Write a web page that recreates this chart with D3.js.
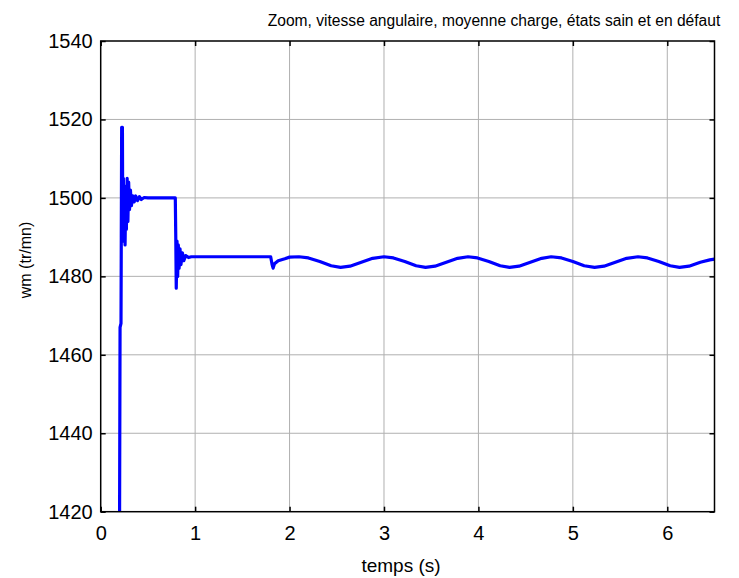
<!DOCTYPE html>
<html>
<head>
<meta charset="utf-8">
<script src="https://cdn.jsdelivr.net/npm/d3@7"></script>
<style>
  html, body { margin: 0; padding: 0; background: #fff; }
  svg { display: block; font-family: "Liberation Sans", Arial, sans-serif; }
</style>
</head>
<body>
<svg id="chart" width="739" height="578"></svg>
<script>
// Angular speed (tr/mn) over time (s): start-up, load step, then faulty-state ripple
const timeS = [
  0.198, 0.205, 0.215, 0.218, 0.222, 0.230, 0.234, 0.240, 0.245, 0.252,
  0.258, 0.265, 0.272, 0.280, 0.288, 0.296, 0.305, 0.315, 0.325, 0.340,
  0.355, 0.370, 0.390, 0.410, 0.430, 0.460, 0.500, 0.790, 0.795, 0.800,
  0.808, 0.815, 0.822, 0.830, 0.840, 0.850, 0.865, 0.880, 0.900, 0.930,
  0.960, 1.800, 1.815, 1.826, 1.840, 1.880, 1.950, 2.000, 2.100, 2.200,
  2.320, 2.440, 2.540, 2.640, 2.760, 2.880, 3.000, 3.100, 3.220, 3.340,
  3.440, 3.540, 3.660, 3.780, 3.890, 3.990, 4.110, 4.230, 4.330, 4.430,
  4.550, 4.670, 4.770, 4.880, 5.000, 5.120, 5.230, 5.330, 5.450, 5.570,
  5.690, 5.790, 5.910, 6.030, 6.130, 6.230, 6.350, 6.450, 6.500
];
const speedWm = [
  1400, 1467, 1468, 1490, 1518, 1518, 1490, 1505, 1489, 1503,
  1488, 1500, 1492, 1505, 1494, 1504, 1497, 1502, 1498, 1500.5,
  1499, 1500.5, 1499.3, 1500.3, 1499.6, 1500.1, 1500, 1500, 1490, 1477,
  1489, 1480, 1488, 1482, 1487, 1483, 1486, 1484, 1485.3, 1484.8,
  1485, 1485, 1483, 1482.1, 1483.2, 1484, 1484.5, 1484.9, 1485.0, 1484.7,
  1483.8, 1482.7, 1482.3, 1482.6, 1483.6, 1484.6, 1485.0, 1484.7, 1483.8, 1482.7,
  1482.3, 1482.6, 1483.6, 1484.6, 1485.0, 1484.7, 1483.8, 1482.7, 1482.3, 1482.6,
  1483.6, 1484.6, 1485.0, 1484.7, 1483.8, 1482.7, 1482.3, 1482.6, 1483.6, 1484.6,
  1485.0, 1484.7, 1483.8, 1482.7, 1482.3, 1482.6, 1483.6, 1484.2, 1484.4
];
const xTicks = [0, 1, 2, 3, 4, 5, 6];
const yTicks = [1420, 1440, 1460, 1480, 1500, 1520, 1540];
const xDomain = [0, 6.5];
const yDomain = [1420, 1540];

const titleText = "Zoom, vitesse angulaire, moyenne charge, états sain et en défaut";
const xLabel = "temps (s)";
const yLabel = "wm (tr/mn)";

const svg = d3.select("#chart");
const plotL = 100.7, plotR = 714.5, plotT = 41, plotB = 511.7;

const x = d3.scaleLinear().domain(xDomain).range([plotL, plotR]);
const y = d3.scaleLinear().domain(yDomain).range([plotB, plotT]);

// grid
const grid = svg.append("g").attr("stroke", "#b0b0b0").attr("stroke-width", 1);
grid.selectAll(".gx").data(xTicks.filter(d => d > xDomain[0] && d < xDomain[1]))
  .join("line")
  .attr("x1", d => x(d)).attr("x2", d => x(d))
  .attr("y1", plotT).attr("y2", plotB);
grid.selectAll(".gy").data(yTicks.filter(d => d > yDomain[0] && d < yDomain[1]))
  .join("line")
  .attr("x1", plotL).attr("x2", plotR)
  .attr("y1", d => y(d)).attr("y2", d => y(d));

// data line
svg.append("clipPath").attr("id", "plotClip")
  .append("rect").attr("x", plotL).attr("y", plotT)
  .attr("width", plotR - plotL).attr("height", plotB - plotT);

const series = timeS.map((t, i) => [t, speedWm[i]]);
svg.append("path")
  .datum(series)
  .attr("clip-path", "url(#plotClip)")
  .attr("fill", "none")
  .attr("stroke", "#0000ff")
  .attr("stroke-width", 3.2)
  .attr("stroke-linejoin", "round")
  .attr("d", d3.line().x(d => x(d[0])).y(d => y(d[1])));

// axes with inward ticks on all sides
const tickLen = 5;
const fontTicks = 20;
const axB = svg.append("g").attr("transform", `translate(0,${plotB})`)
  .call(d3.axisBottom(x).tickValues(xTicks).tickSize(-tickLen).tickPadding(tickLen + 9).tickFormat(d3.format("d")));
const axT = svg.append("g").attr("transform", `translate(0,${plotT})`)
  .call(d3.axisTop(x).tickValues(xTicks).tickSize(-tickLen).tickFormat(""));
const axL = svg.append("g").attr("transform", `translate(${plotL},0)`)
  .call(d3.axisLeft(y).tickValues(yTicks).tickSize(-tickLen).tickPadding(tickLen + 3).tickFormat(d3.format("d")));
const axR = svg.append("g").attr("transform", `translate(${plotR},0)`)
  .call(d3.axisRight(y).tickValues(yTicks).tickSize(-tickLen).tickFormat(""));

[axB, axT, axL, axR].forEach(a => {
  a.select(".domain").remove();
  a.selectAll(".tick line").attr("stroke", "#000").attr("stroke-width", 1.5);
  a.selectAll("text").attr("fill", "#000")
    .style("font-family", "'Liberation Sans', Arial, sans-serif")
    .style("font-size", fontTicks + "px");
});

// box
svg.append("rect")
  .attr("x", plotL).attr("y", plotT)
  .attr("width", plotR - plotL).attr("height", plotB - plotT)
  .attr("fill", "none").attr("stroke", "#000").attr("stroke-width", 1.5);

// title and labels
svg.append("text")
  .attr("x", 494).attr("y", 26)
  .attr("text-anchor", "middle")
  .style("font-size", "15.6px")
  .text(titleText);

svg.append("text")
  .attr("x", 401).attr("y", 572)
  .attr("text-anchor", "middle")
  .style("font-size", "19px")
  .text(xLabel);

svg.append("text")
  .attr("transform", `translate(31,260) rotate(-90)`)
  .attr("text-anchor", "middle")
  .style("font-size", "16px")
  .text(yLabel);
</script>
</body>
</html>
